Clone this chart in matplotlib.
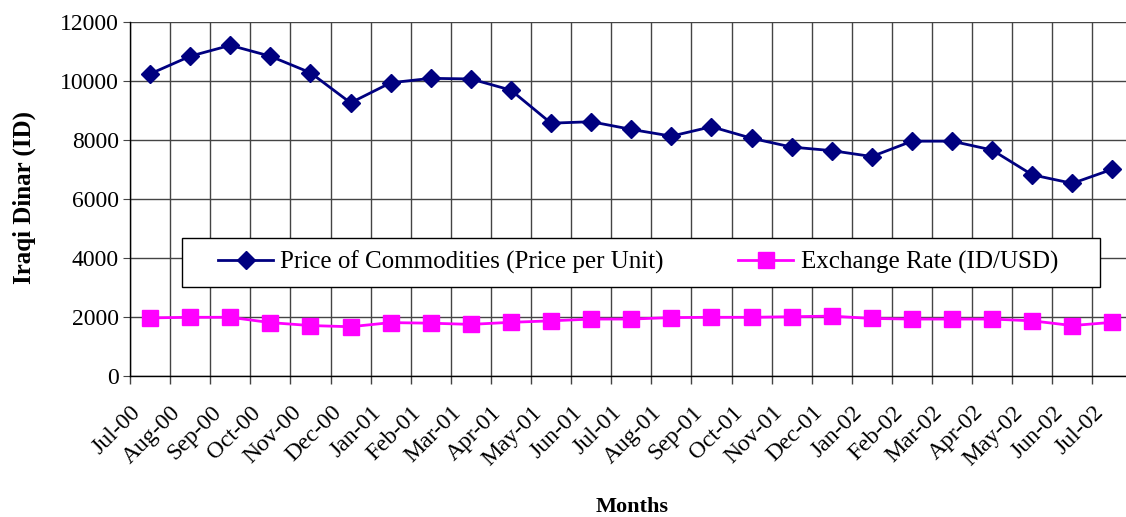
import numpy as np
import matplotlib
matplotlib.use("Agg")
import matplotlib.pyplot as plt
from matplotlib.patches import Rectangle
from matplotlib.ticker import FixedLocator
from matplotlib.transforms import ScaledTranslation

plt.rcParams["font.family"] = ["Liberation Serif", "DejaVu Serif"]

months = ["Jul-00", "Aug-00", "Sep-00", "Oct-00", "Nov-00", "Dec-00",
          "Jan-01", "Feb-01", "Mar-01", "Apr-01", "May-01", "Jun-01",
          "Jul-01", "Aug-01", "Sep-01", "Oct-01", "Nov-01", "Dec-01",
          "Jan-02", "Feb-02", "Mar-02", "Apr-02", "May-02", "Jun-02",
          "Jul-02"]
price = [10240, 10840, 11210, 10840, 10280, 9260,
         9940, 10090, 10070, 9690, 8570, 8620,
         8360, 8130, 8450, 8060, 7760, 7640,
         7440, 7960, 7960, 7660, 6820, 6530,
         7010]
exchange = [1970, 1990, 1990, 1810, 1710, 1670,
            1810, 1790, 1750, 1820, 1870, 1930,
            1930, 1980, 1990, 1990, 2010, 2030,
            1950, 1930, 1930, 1930, 1870, 1710,
            1820]

W, H = 1126, 517
fig = plt.figure(figsize=(W / 100, H / 100), dpi=100)
ax = fig.add_axes([130 / W, (H - 376) / H, 1002.5 / W, 354 / H])

x = np.arange(len(months))
ax.plot(x, price, color="#000080", lw=2, marker="D", ms=9,
        label="Price of Commodities (Price per Unit)")
ax.plot(x, exchange, color="#FF00FF", lw=2, marker="s", ms=11,
        label="Exchange Rate (ID/USD)")

ax.set_xlim(-0.5, len(months) - 0.5)
ax.set_ylim(0, 12000)
ax.set_yticks(np.arange(0, 12001, 2000))

# category labels at centres, tick marks and grid on boundaries
ax.set_xticks(x)
ax.set_xticklabels(months, rotation=45, ha="right", va="center",
                   rotation_mode="anchor", fontsize=17)
ax.xaxis.set_minor_locator(FixedLocator(np.arange(-0.5, len(months), 1)))
ax.tick_params(axis="x", which="major", length=0, pad=24)
ax.tick_params(axis="x", which="minor", length=6, width=1, color="#444444")
ax.tick_params(axis="y", length=5, labelsize=17, pad=3, color="#444444")
shift = ScaledTranslation(-9 / 72, 0, fig.dpi_scale_trans)
for lab in ax.get_xticklabels():
    lab.set_transform(lab.get_transform() + shift)

ax.grid(True, axis="y", color="#444444", lw=1)
ax.grid(True, axis="x", which="minor", color="#444444", lw=1)
ax.set_axisbelow(True)
for s in ["top", "right"]:
    ax.spines[s].set_visible(False)
for s in ["left", "bottom"]:
    ax.spines[s].set_color("black")
    ax.spines[s].set_linewidth(1)

fig.text(24 / W, 1 - 198 / H, "Iraqi Dinar (ID)", fontsize=18,
         fontweight="bold", rotation=90, ha="center", va="center")
fig.text(632 / W, 1 - 507 / H, "Months", fontsize=16, fontweight="bold",
         ha="center", va="center")

# legend box drawn by hand so the padding can be wider than it is tall
box = Rectangle((182 / W, (H - 287) / H), 918 / W, 49 / H,
                transform=fig.transFigure, facecolor="white",
                edgecolor="black", lw=1, zorder=4, clip_on=False)
ax.add_patch(box)
leg = ax.legend(loc="center", ncol=2, mode="expand", fontsize=18,
                bbox_to_anchor=(218 / W, (H - 287) / H, 840 / W, 49 / H),
                bbox_transform=fig.transFigure, frameon=False,
                handlelength=2.2, handletextpad=0.3,
                borderaxespad=0, borderpad=0)
leg.set_zorder(5)

fig.savefig("out.png", dpi=100)
